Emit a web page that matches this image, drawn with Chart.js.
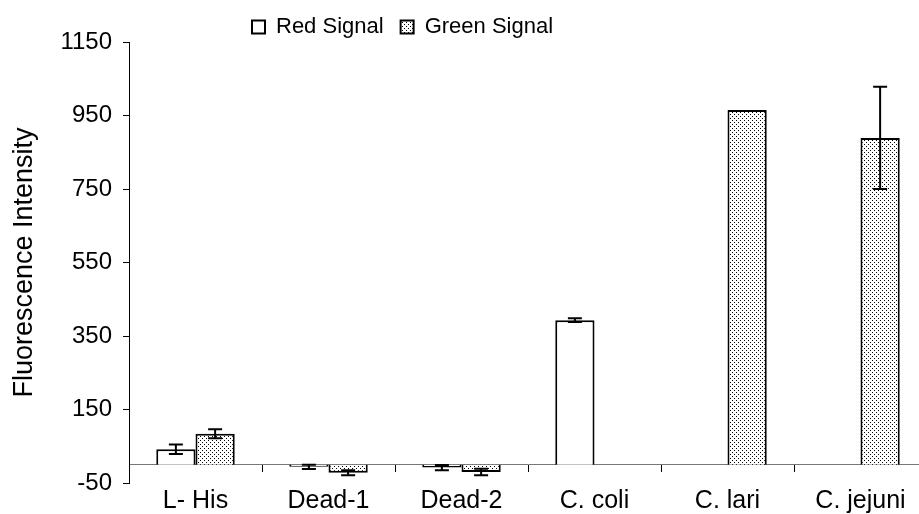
<!DOCTYPE html>
<html>
<head>
<meta charset="utf-8">
<script src="https://cdn.jsdelivr.net/npm/chart.js@4"></script>
<style>
  html, body { margin: 0; padding: 0; background: #fff; overflow: hidden; }
  #wrap { width: 935px; height: 514px; }
</style>
</head>
<body>
<div id="wrap"><canvas id="chart" width="935" height="514"></canvas></div>
<script>
// données
const categories = ['L- His', 'Dead-1', 'Dead-2', 'C. coli', 'C. lari', 'C. jejuni'];
const redValues = [42, -6, -8, 393, null, null];
const redErrors = [13, 6, 7, 5, null, null];
const greenValues = [84, -22, -20, null, 965, 889];
const greenErrors = [12, 7, 9, null, null, 139];
const yTickValues = [-50, 150, 350, 550, 750, 950, 1150];

const FONT = "'Liberation Sans', Arial, sans-serif";

// motif pointillé pour la série verte
function makeStipple() {
  const tile = document.createElement('canvas');
  tile.width = 4;
  tile.height = 4;
  const t = tile.getContext('2d');
  t.fillStyle = '#fff';
  t.fillRect(0, 0, 4, 4);
  t.fillStyle = '#000';
  t.fillRect(0, 0, 1, 1);
  t.fillRect(2, 2, 1, 1);
  return t.createPattern(tile, 'repeat');
}
const stipple = makeStipple();

// barres d'erreur dessinées à partir des éléments de barre
const errorBars = {
  id: 'errorBars',
  afterDatasetsDraw(chart) {
    const ctx = chart.ctx;
    const yScale = chart.scales.y;
    ctx.save();
    ctx.strokeStyle = '#000';
    ctx.lineWidth = 2;
    chart.data.datasets.forEach((ds, i) => {
      const meta = chart.getDatasetMeta(i);
      meta.data.forEach((bar, j) => {
        const v = ds.data[j];
        const e = ds.errors[j];
        if (v == null || e == null) return;
        const yTop = yScale.getPixelForValue(v + e);
        const yBot = yScale.getPixelForValue(v - e);
        const half = 7;
        ctx.beginPath();
        ctx.moveTo(bar.x, yTop);
        ctx.lineTo(bar.x, yBot);
        ctx.moveTo(bar.x - half, yTop);
        ctx.lineTo(bar.x + half, yTop);
        ctx.moveTo(bar.x - half, yBot);
        ctx.lineTo(bar.x + half, yBot);
        ctx.stroke();
      });
    });
    ctx.restore();
  }
};

// place la légende comme sur la figure
const legendShift = {
  id: 'legendShift',
  afterLayout(chart) {
    const dy = 26 - (chart.legend.top + 27);
    chart.legend.left = 235;
    chart.legend.top += dy;
    chart.legend.bottom += dy;
  }
};

const ctx = document.getElementById('chart').getContext('2d');
new Chart(ctx, {
  type: 'bar',
  data: {
    labels: categories,
    datasets: [
      {
        label: 'Red Signal',
        data: redValues,
        errors: redErrors,
        backgroundColor: '#fff',
        borderColor: '#000',
        borderWidth: 2,
        xAxisID: 'x',
        categoryPercentage: 0.59,
        barPercentage: 1.0,
      },
      {
        label: 'Green Signal',
        data: greenValues,
        errors: greenErrors,
        backgroundColor: stipple,
        borderColor: '#000',
        borderWidth: 2,
        xAxisID: 'x',
        categoryPercentage: 0.59,
        barPercentage: 1.0,
      },
    ],
  },
  options: {
    responsive: false,
    animation: false,
    layout: { padding: { top: -7, right: 8, left: 0, bottom: 0 } },
    plugins: {
      tooltip: { enabled: false },
      legend: {
        position: 'top',
        align: 'start',
        labels: {
          color: '#000',
          font: { family: FONT, size: 22 },
          boxWidth: 13,
          boxHeight: 13,
          padding: 17,
        },
      },
    },
    scales: {
      x: {
        type: 'category',
        position: 'bottom',
        grid: { display: false, drawTicks: false },
        border: { display: false },
        ticks: {
          color: '#000',
          font: { family: FONT, size: 25 },
          padding: 3,
          maxRotation: 0,
          autoSkip: false,
        },
        afterFit: (s) => { s.height = 31; },
      },
      x0: {
        type: 'category',
        position: { y: 0 },
        offset: true,
        grid: {
          display: true,
          offset: true,
          drawOnChartArea: false,
          drawTicks: true,
          tickLength: 7,
          color: '#000',
          lineWidth: 1,
        },
        border: { display: true, color: '#777', width: 1 },
        ticks: { display: false },
      },
      y: {
        min: -50,
        max: 1150,
        afterBuildTicks: (s) => { s.ticks = yTickValues.map((v) => ({ value: v })); },
        grid: {
          drawOnChartArea: false,
          drawTicks: true,
          tickLength: 6,
          color: '#000',
        },
        border: { display: true, color: '#000', width: 1 },
        ticks: {
          color: '#000',
          font: { family: FONT, size: 24 },
          padding: 11,
          callback: (v) => String(v),
        },
        title: {
          display: true,
          text: 'Fluorescence Intensity',
          color: '#000',
          font: { family: FONT, size: 27 },
          padding: { top: 8, bottom: 0 },
        },
        afterFit: (s) => { s.width = 129; },
      },
    },
  },
  plugins: [errorBars, legendShift],
});
</script>
</body>
</html>
